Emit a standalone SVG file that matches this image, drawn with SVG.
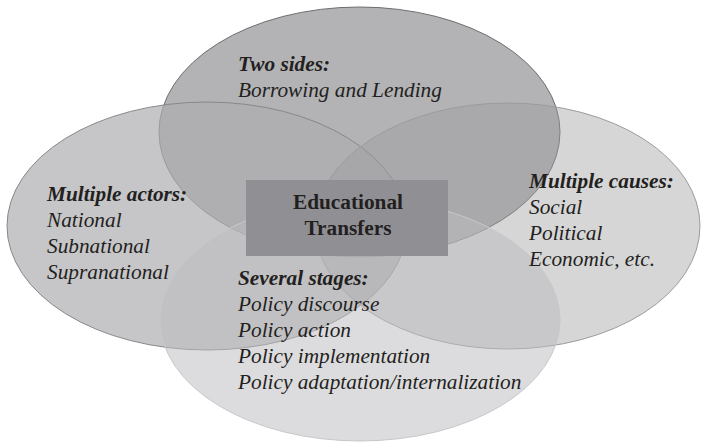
<svg xmlns="http://www.w3.org/2000/svg" width="701" height="442" viewBox="0 0 701 442">
<style>
text{font-family:"Liberation Serif","Times New Roman",serif;font-size:21.3px;fill:#231f20}
.h{font-weight:bold;font-style:italic}
.i{font-style:italic}
.b{font-weight:bold}
</style>
<rect width="701" height="442" fill="#ffffff"/>
<g id="two-sides">
<ellipse cx="359.5" cy="132" rx="200.5" ry="125" fill="#b3b3b6" stroke="#6e6e71" stroke-width="1"/>
</g>
<g id="multiple-actors">
<ellipse cx="207" cy="226" rx="200" ry="124" fill="#aeaeb0" fill-opacity="0.7" stroke="#88888b" stroke-width="1"/>
</g>
<g id="multiple-causes">
<ellipse cx="507.5" cy="226" rx="192.5" ry="123" fill="#9b9b9e" fill-opacity="0.41" stroke="#9c9c9f" stroke-width="1"/>
</g>
<g id="several-stages">
<ellipse cx="360" cy="320" rx="200" ry="121" fill="#bcbcbf" fill-opacity="0.52" stroke="#c8c8ca" stroke-width="1"/>
</g>
<g id="connectors"></g>
<g id="labels-two-sides">
<text x="238" y="71" class="h">Two sides:</text>
<text x="238" y="97" class="i">Borrowing and Lending</text>
</g>
<g id="labels-actors">
<text x="47" y="201" class="h">Multiple actors:</text>
<text x="47" y="227" class="i">National</text>
<text x="47" y="253" class="i">Subnational</text>
<text x="47" y="279" class="i">Supranational</text>
</g>
<g id="labels-causes">
<text x="529" y="188" class="h">Multiple causes:</text>
<text x="529" y="214" class="i">Social</text>
<text x="529" y="240" class="i">Political</text>
<text x="529" y="266" class="i">Economic, etc.</text>
</g>
<g id="labels-stages">
<text x="238" y="285" class="h">Several stages:</text>
<text x="238" y="311" class="i">Policy discourse</text>
<text x="238" y="337" class="i">Policy action</text>
<text x="238" y="363" class="i">Policy implementation</text>
<text x="238" y="389" class="i">Policy adaptation/internalization</text>
</g>
<g id="educational-transfers">
<rect x="246" y="180" width="202" height="76" fill="#909094"/>
<text x="348" y="209" class="b" text-anchor="middle">Educational</text>
<text x="348" y="235" class="b" text-anchor="middle">Transfers</text>
</g>
</svg>
